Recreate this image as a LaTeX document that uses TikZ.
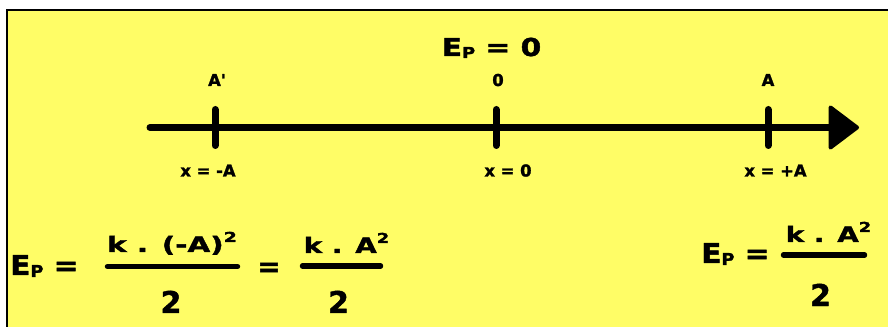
\documentclass[tikz,border=0pt]{standalone}
\usepackage{fontspec}
\usepackage{graphicx}
\setmainfont{DejaVu Sans}[BoldFont={DejaVu Sans Bold}, BoldFeatures={FakeBold=1.5}]
\newcommand{\sx}[2]{\scalebox{#1}[1]{#2}}
\newcommand{\fsz}[1]{\fontsize{#1}{#1}\selectfont}
\newcommand{\subP}[1]{\raisebox{-1.5pt}{\fsz{#1}P}}
\newcommand{\supTwo}{\raisebox{7.5pt}{\fsz{10.3}2}}
\definecolor{bgyellow}{RGB}{255,253,102}
\tikzset{
  lbl/.style={inner sep=0pt, anchor=base, font=\bfseries\fontsize{12.3}{12.3}\selectfont},
  title/.style={inner sep=0pt, anchor=base, font=\bfseries\fontsize{18.5}{18.5}\selectfont},
  big/.style={inner sep=0pt, anchor=base, font=\bfseries\fontsize{20.5}{20.5}\selectfont},
  numer/.style={inner sep=0pt, anchor=base, font=\bfseries\fontsize{16}{16}\selectfont},
  denom/.style={inner sep=0pt, anchor=base, font=\bfseries\fontsize{22.5}{22.5}\selectfont},
  axisline/.style={line width=5.25pt, line cap=round},
  tickline/.style={line width=5.25pt, line cap=round},
  barline/.style={line width=4.1pt, line cap=round},
}
\begin{document}
\begin{tikzpicture}[x=0.75pt,y=-0.75pt]
\useasboundingbox (0,0) rectangle (888,327);
\fill[white] (0,0) rectangle (888,327);
\fill[bgyellow] (7,10) rectangle (888,327);
\draw[line width=1.9pt] (7,327) -- (7,10) -- (888,10);

% axis
\coordinate (start) at (150,127.5);
\coordinate (base) at (829,127.5);
\draw[axisline] (start) -- (base);
\coordinate (tipA) at (830.5,107.5);
\coordinate (tipB) at (857,127.5);
\coordinate (tipC) at (830.5,147.5);
\filldraw[line width=3pt, line join=round] (tipA) -- (tipB) -- (tipC) -- cycle;

% ticks
\coordinate (t1a) at (215,109.5); \coordinate (t1b) at (215,145.5);
\coordinate (t2a) at (496,109.5); \coordinate (t2b) at (496,145.5);
\coordinate (t3a) at (768,109.5); \coordinate (t3b) at (768,145.5);
\draw[tickline] (t1a) -- (t1b);
\draw[tickline] (t2a) -- (t2b);
\draw[tickline] (t3a) -- (t3b);

% labels
\node[lbl] (lA1) at (217,86) {\addfontfeatures{Ligatures=TeXOff}A'};
\node[lbl] (l0) at (498,86) {0};
\node[lbl] (lA) at (768,86) {A};
\node[lbl] (xm) at (208,176.5) {x = -A};
\node[lbl] (x0) at (508,176.5) {x = 0};
\node[lbl] (xp) at (775.5,176.5) {x = +A};

% title
\node[title] (ttl) at (491.5,56) {\sx{1.2}{E\subP{11.3} = 0}};

% left formula
\node[big, anchor=base west] (epL) at (10,275) {\sx{1.08}{E\subP{12.3} =}};
\node[numer] (n1) at (172,252) {\sx{1.38}{k . (-A)\supTwo}};
\coordinate (b1a) at (107.5,266.5); \coordinate (b1b) at (237.5,266.5);
\draw[barline] (b1a) -- (b1b);
\node[denom] (d1) at (171,313) {2};
\node[big] (eq) at (269,276) {=};
\node[numer] (n2) at (346.5,253) {\sx{1.3}{k . A\supTwo}};
\coordinate (b2a) at (302.5,266); \coordinate (b2b) at (380.5,266);
\draw[barline] (b2a) -- (b2b);
\node[denom] (d2) at (338.5,313) {2};

% right formula
\node[big, anchor=base west] (epR) at (701,263) {\sx{1.08}{E\subP{12.3} =}};
\node[numer] (n3) at (828.5,242) {\sx{1.3}{k . A\supTwo}};
\coordinate (b3a) at (783.5,255); \coordinate (b3b) at (864.5,255);
\draw[barline] (b3a) -- (b3b);
\node[denom] (d3) at (820.5,306) {2};
\end{tikzpicture}
\end{document}
